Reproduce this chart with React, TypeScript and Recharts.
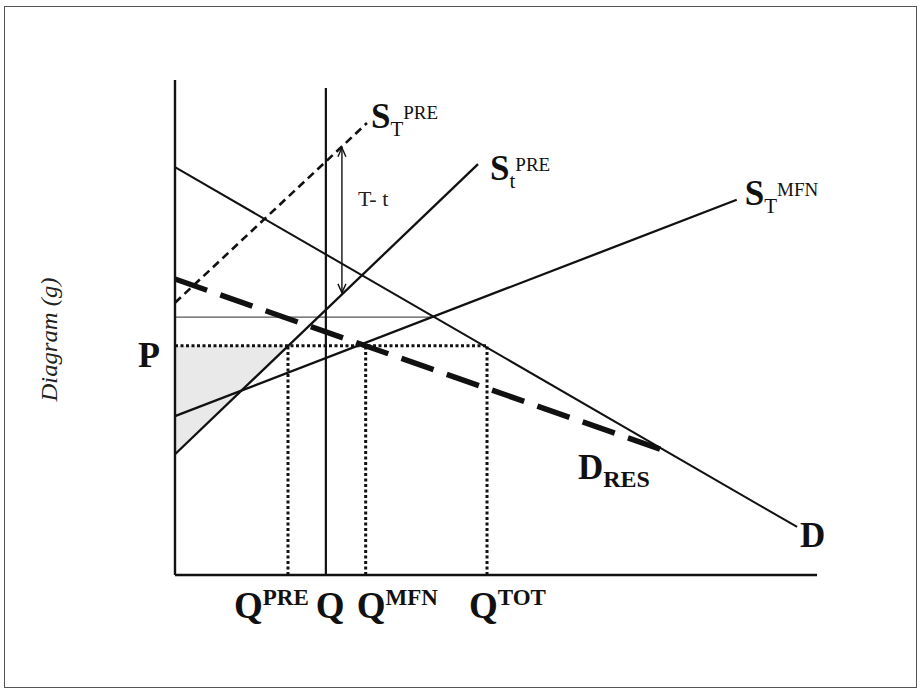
import {
  ComposedChart, Line, Area, XAxis, YAxis, ReferenceLine,
} from "recharts";

// quantity on x (0-100), price on y (0-100)
const qTicks = [17.6, 23.5, 29.7, 48.6];
const qTickSup = ["PRE", "", "MFN", "TOT"];
const priceP = 46.3;
const priceUpper = 52.1;
const qUpperEnd = 40.2;
const qTop = 98.4;

const demand = [
  { q: 0, p: 82.4 },
  { q: 96.9, p: 9.7 },
];
const demandRes = [
  { q: 0, p: 59.8 },
  { q: 77.4, p: 24.6 },
];
const supplyTPre = [
  { q: 0, p: 55.0 },
  { q: 29.9, p: 91.3 },
];
const supplytPre = [
  { q: 0, p: 24.4 },
  { q: 47.2, p: 83.0 },
];
const supplyTMfn = [
  { q: 0, p: 32.1 },
  { q: 87.5, p: 75.8 },
];
const shaded = [
  { q: 0, band: [24.4, 46.3] },
  { q: 17.6, band: [46.3, 46.3] },
];
const gapArrow = { q: 26.0, low: 57.0, high: 86.3 };

const serif = "'Liberation Serif', 'DejaVu Serif', serif";
const ink = "#111";

const QTick = ({ x, y, index }: any) => {
  const dx = [-54, -10, -9, -18][index] ?? 0;
  return (
    <text x={x + dx} y={y + 35} fontFamily={serif} fontWeight="bold" fill={ink}>
      <tspan fontSize={37}>Q</tspan>
      {qTickSup[index] ? (
        <tspan fontSize={23} dy={-13}>{qTickSup[index]}</tspan>
      ) : null}
    </text>
  );
};

const PTick = ({ x, y }: any) => (
  <text x={x - 29} y={y + 21} fontFamily={serif} fontWeight="bold" fontSize={36} fill={ink}>
    P
  </text>
);

const AxisTitle = ({ viewBox }: any) => {
  const cx = viewBox.x + viewBox.width - 123;
  const cy = viewBox.y + viewBox.height / 2 + 12;
  return (
    <text
      x={cx}
      y={cy}
      transform={`rotate(-90 ${cx} ${cy})`}
      textAnchor="middle"
      dominantBaseline="middle"
      fontFamily={serif}
      fontStyle="italic"
      fontSize={23}
      textLength={124}
      lengthAdjust="spacingAndGlyphs"
      fill="#222"
    >
      Diagram (g)
    </text>
  );
};

// label drawn at the last point of a series
const endLabel = (
  main: string,
  sub: string,
  sup: string,
  dx: number,
  dy: number,
  subBold = false,
) => (props: any) => {
  const { x, y, index } = props;
  if (index !== 1) return <g />;
  return (
    <text x={x + dx} y={y + dy} fontFamily={serif} fill={ink}>
      <tspan fontSize={35} fontWeight="bold">{main}</tspan>
      {sub ? (
        <tspan fontSize={subBold ? 24 : 21} fontWeight={subBold ? "bold" : "normal"} dy={8}>
          {sub}
        </tspan>
      ) : null}
      {sup ? (
        <tspan fontSize={19} dy={-17}>{sup}</tspan>
      ) : null}
    </text>
  );
};

const ArrowShape = (props: any) => {
  const { x1, y1, x2, y2 } = props;
  const top = Math.min(y1, y2);
  const bottom = Math.max(y1, y2);
  return (
    <g stroke={ink} strokeWidth={1.4} fill="none">
      <line x1={x1} y1={top} x2={x2} y2={bottom} />
      <polyline points={`${x1 - 4},${top + 9} ${x1},${top} ${x1 + 4},${top + 9}`} />
      <polyline points={`${x1 - 4},${bottom - 9} ${x1},${bottom} ${x1 + 4},${bottom - 9}`} />
    </g>
  );
};

const dotted = { stroke: "#111", strokeWidth: 3, strokeDasharray: "3 2.5" };

export default function App() {
  return (
    <div style={{ position: "absolute", left: 0, top: 0, width: 921, height: 691, background: "#fff" }}>
      <div
        style={{
          position: "absolute", left: 4, top: 6, width: 911, height: 680,
          border: "1.5px solid #555",
        }}
      />
      <ComposedChart
        width={921}
        height={691}
        margin={{ top: 80, right: 104, bottom: 56, left: 115 }}
        style={{ position: "absolute", left: 0, top: 0 }}
      >
        <XAxis
          type="number"
          dataKey="q"
          domain={[0, 100]}
          ticks={qTicks}
          tick={<QTick />}
          tickLine={false}
          height={60}
          axisLine={{ stroke: ink, strokeWidth: 2.4 }}
          interval={0}
        />
        <YAxis
          type="number"
          domain={[0, 100]}
          ticks={[priceP]}
          tick={<PTick />}
          tickLine={false}
          width={60}
          axisLine={{ stroke: ink, strokeWidth: 2.4 }}
          label={<AxisTitle />}
        />
        <Area
          data={shaded}
          dataKey="band"
          type="linear"
          fill="#e9e9e9"
          fillOpacity={1}
          stroke="none"
          isAnimationActive={false}
          activeDot={false}
          dot={false}
        />
        <ReferenceLine segment={[{ x: 0, y: priceP }, { x: qTicks[3], y: priceP }]} {...dotted} />
        <ReferenceLine segment={[{ x: qTicks[0], y: 0 }, { x: qTicks[0], y: priceP }]} {...dotted} />
        <ReferenceLine segment={[{ x: qTicks[2], y: 0 }, { x: qTicks[2], y: priceP }]} {...dotted} />
        <ReferenceLine segment={[{ x: qTicks[3], y: 0 }, { x: qTicks[3], y: priceP }]} {...dotted} />
        <ReferenceLine
          segment={[{ x: 0, y: priceUpper }, { x: qUpperEnd, y: priceUpper }]}
          stroke="#555"
          strokeWidth={1.3}
        />
        <ReferenceLine
          segment={[{ x: qTicks[1], y: 0 }, { x: qTicks[1], y: qTop }]}
          stroke={ink}
          strokeWidth={2.2}
        />
        <ReferenceLine
          segment={[{ x: gapArrow.q, y: gapArrow.low }, { x: gapArrow.q, y: gapArrow.high }]}
          shape={<ArrowShape />}
          label={{
            value: "T- t",
            position: "right",
            offset: 16,
            dy: -22,
            fill: "#222",
            fontFamily: serif,
            fontSize: 22,
          }}
        />
        <Line
          data={demand}
          dataKey="p"
          type="linear"
          stroke={ink}
          strokeWidth={2}
          dot={false}
          activeDot={false}
          isAnimationActive={false}
          label={endLabel("D", "", "", 3, 20)}
        />
        <Line
          data={supplytPre}
          dataKey="p"
          type="linear"
          stroke={ink}
          strokeWidth={2.3}
          dot={false}
          activeDot={false}
          isAnimationActive={false}
          label={endLabel("S", "t", "PRE", 12, 16)}
        />
        <Line
          data={supplyTMfn}
          dataKey="p"
          type="linear"
          stroke={ink}
          strokeWidth={2.3}
          dot={false}
          activeDot={false}
          isAnimationActive={false}
          label={endLabel("S", "T", "MFN", 8, 5)}
        />
        <Line
          data={supplyTPre}
          dataKey="p"
          type="linear"
          stroke={ink}
          strokeWidth={2.6}
          strokeDasharray="8 5"
          dot={false}
          activeDot={false}
          isAnimationActive={false}
          label={endLabel("S", "T", "PRE", 4, 5)}
        />
        <Line
          data={demandRes}
          dataKey="p"
          type="linear"
          stroke={ink}
          strokeWidth={5.5}
          strokeDasharray="34 14"
          dot={false}
          activeDot={false}
          isAnimationActive={false}
          label={endLabel("D", "RES", "", -94, 26, true)}
        />
      </ComposedChart>
    </div>
  );
}
